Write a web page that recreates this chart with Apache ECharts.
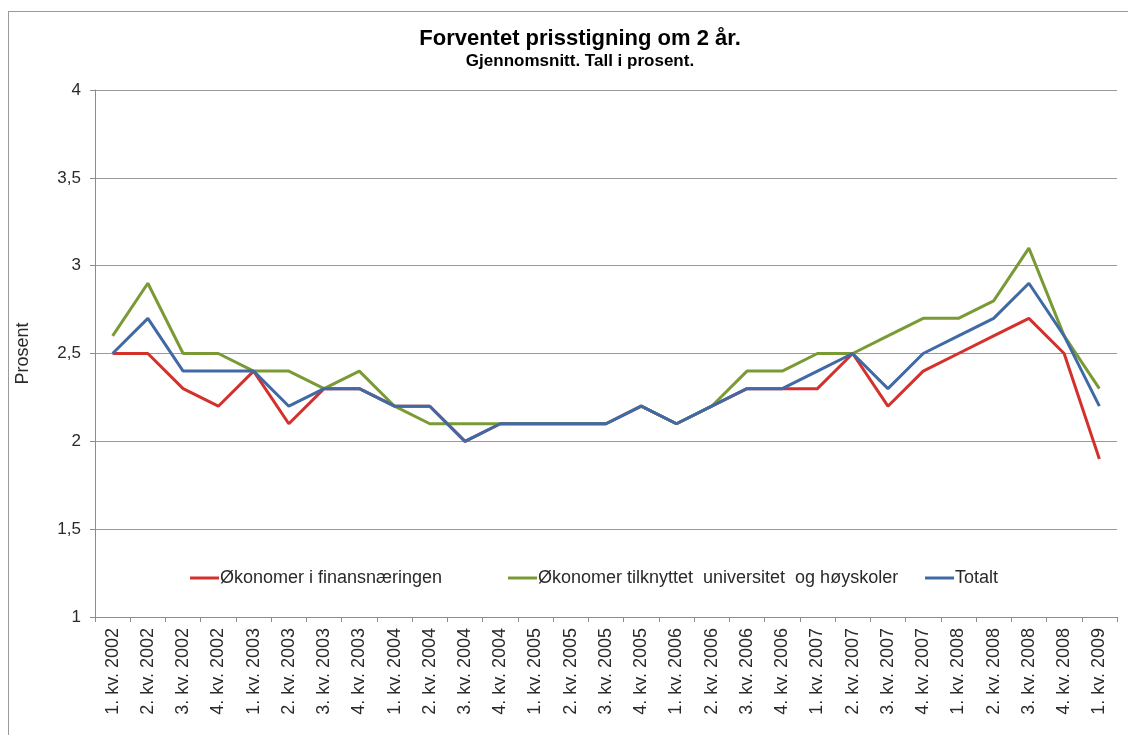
<!DOCTYPE html>
<html>
<head>
    <meta charset="utf-8">
    <title>Forventet prisstigning om 2 år</title>
    <script src="https://cdn.jsdelivr.net/npm/echarts@6/dist/echarts.min.js"></script>
    <style>
        body { margin: 0; background: #fff; }
        #frame { position: absolute; left: 8px; top: 11px; width: 1200px; height: 800px;
                 border-left: 1px solid #9a9a9a; border-top: 1px solid #9a9a9a; }
        #chart1 { position: absolute; left: 0; top: 0; width: 1128px; height: 735px; }
    </style>
</head>
<body>
<div id="frame"></div>
<div id="chart1"></div>
<script>
    // kvartaler
    var kvartaler = [
        '1. kv. 2002', '2. kv. 2002', '3. kv. 2002', '4. kv. 2002',
        '1. kv. 2003', '2. kv. 2003', '3. kv. 2003', '4. kv. 2003',
        '1. kv. 2004', '2. kv. 2004', '3. kv. 2004', '4. kv. 2004',
        '1. kv. 2005', '2. kv. 2005', '3. kv. 2005', '4. kv. 2005',
        '1. kv. 2006', '2. kv. 2006', '3. kv. 2006', '4. kv. 2006',
        '1. kv. 2007', '2. kv. 2007', '3. kv. 2007', '4. kv. 2007',
        '1. kv. 2008', '2. kv. 2008', '3. kv. 2008', '4. kv. 2008',
        '1. kv. 2009'
    ];
    var finans = [2.5, 2.5, 2.3, 2.2, 2.4, 2.1, 2.3, 2.3, 2.2, 2.2, 2.0, 2.1, 2.1, 2.1, 2.1,
        2.2, 2.1, 2.2, 2.3, 2.3, 2.3, 2.5, 2.2, 2.4, 2.5, 2.6, 2.7, 2.5, 1.9];
    var universitet = [2.6, 2.9, 2.5, 2.5, 2.4, 2.4, 2.3, 2.4, 2.2, 2.1, 2.1, 2.1, 2.1, 2.1, 2.1,
        2.2, 2.1, 2.2, 2.4, 2.4, 2.5, 2.5, 2.6, 2.7, 2.7, 2.8, 3.1, 2.6, 2.3];
    var totalt = [2.5, 2.7, 2.4, 2.4, 2.4, 2.2, 2.3, 2.3, 2.2, 2.2, 2.0, 2.1, 2.1, 2.1, 2.1,
        2.2, 2.1, 2.2, 2.3, 2.3, 2.4, 2.5, 2.3, 2.5, 2.6, 2.7, 2.9, 2.6, 2.2];

    var fontName = "'Liberation Sans', Arial, sans-serif";
    var txt = '#2a2a2a';

    function legendItem(name, left) {
        return {
            data: [name], left: left, top: 564, icon: 'rect',
            itemWidth: 29, itemHeight: 3, itemGap: 0,
            textStyle: { fontFamily: fontName, fontSize: 18, color: txt, padding: [0, 0, 0, -4] }
        };
    }

    var myChart1 = echarts.init(document.getElementById('chart1'));
    myChart1.setOption({
        animation: false,
        title: {
            text: 'Forventet prisstigning om 2 år.',
            subtext: 'Gjennomsnitt. Tall i prosent.',
            left: 575, top: 23, textAlign: 'center', itemGap: 3,
            textStyle: { fontFamily: "'Liberation Sans Narrow', " + fontName, fontSize: 22, fontWeight: 'bold', color: '#000' },
            subtextStyle: { fontFamily: "'Liberation Sans Narrow', " + fontName, fontSize: 17, fontWeight: 'bold', color: '#000' }
        },
        legend: [
            legendItem('Økonomer i finansnæringen', 185),
            legendItem('Økonomer tilknyttet  universitet  og høyskoler', 503),
            legendItem('Totalt', 920)
        ],
        grid: { left: 95, right: 11, top: 90, bottom: 118 },
        xAxis: {
            type: 'category',
            data: kvartaler,
            boundaryGap: true,
            axisLine: { lineStyle: { color: '#8c8c8c' } },
            axisTick: { show: true, length: 5, lineStyle: { color: '#8c8c8c' } },
            axisLabel: {
                rotate: 90, interval: 0, margin: 11,
                fontFamily: fontName, fontSize: 18, color: txt
            }
        },
        yAxis: {
            type: 'value', min: 1, max: 4, interval: 0.5,
            name: 'Prosent', nameLocation: 'middle', nameGap: 63, nameRotate: 90,
            nameTextStyle: { fontFamily: fontName, fontSize: 18, color: txt },
            axisLine: { show: true, lineStyle: { color: '#8c8c8c' } },
            axisTick: { show: true, length: 5, lineStyle: { color: '#8c8c8c' } },
            splitLine: { lineStyle: { color: '#9a9a9a', width: 1 } },
            axisLabel: {
                margin: 14, fontFamily: fontName, fontSize: 17, color: txt,
                formatter: function (v) { return String(v).replace('.', ','); }
            }
        },
        series: [
            { name: 'Økonomer i finansnæringen', type: 'line', data: finans,
              symbol: 'none', lineStyle: { width: 3, color: '#d4302c' }, itemStyle: { color: '#d4302c' } },
            { name: 'Økonomer tilknyttet  universitet  og høyskoler', type: 'line', data: universitet,
              symbol: 'none', lineStyle: { width: 3, color: '#7a9a36' }, itemStyle: { color: '#7a9a36' } },
            { name: 'Totalt', type: 'line', data: totalt,
              symbol: 'none', lineStyle: { width: 3, color: '#3f6aa6' }, itemStyle: { color: '#3f6aa6' } }
        ]
    });
</script>
</body>
</html>
